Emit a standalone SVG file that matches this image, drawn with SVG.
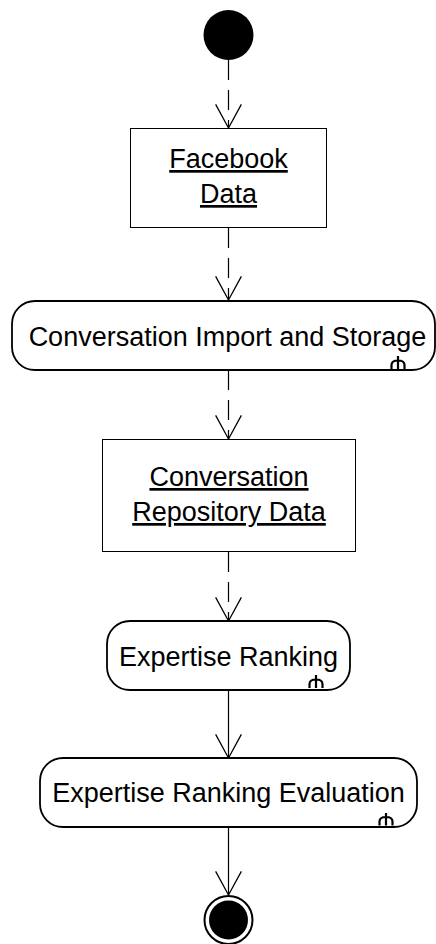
<svg xmlns="http://www.w3.org/2000/svg" width="436" height="944" viewBox="0 0 436 944">
<style>
.lbl{font-family:"Liberation Sans",Arial,sans-serif;font-size:27px;fill:#000;text-anchor:middle}
.u{text-decoration:underline}
.obj{fill:#fff;stroke:#000;stroke-width:1}
.act{fill:#fff;stroke:#000;stroke-width:1.8}
.rake{fill:none;stroke:#000;stroke-width:2.2}
.edge{fill:none;stroke:#000;stroke-width:1.2}
.dash{stroke-dasharray:20 10}
</style>
<defs>
<marker id="arr" markerUnits="userSpaceOnUse" markerWidth="30" markerHeight="30" viewBox="-24 -14 26 28" refX="0" refY="0" orient="auto" overflow="visible">
<path d="M-22,-12 L0,0 L-22,12" fill="none" stroke="#000" stroke-width="1.2"/>
</marker>
</defs>
<rect width="436" height="944" fill="#fff"/>
<g id="connectors">
<path class="edge dash" d="M228.5,60 V128" marker-end="url(#arr)"/>
<path class="edge dash" d="M228.5,228 V300" marker-end="url(#arr)"/>
<path class="edge dash" d="M228.5,370 V439" marker-end="url(#arr)"/>
<path class="edge dash" d="M228.5,552 V621" marker-end="url(#arr)"/>
<path class="edge" d="M228.5,690 V758" marker-end="url(#arr)"/>
<path class="edge" d="M228.5,827 V895" marker-end="url(#arr)"/>
</g>
<g id="start">
<circle cx="228.5" cy="35" r="25" fill="#000"/>
</g>
<g id="facebook-data">
<rect class="obj" x="130.5" y="128.5" width="196" height="99"/>
<text class="lbl u" x="228.5" y="168">Facebook</text>
<text class="lbl u" x="228.5" y="203">Data</text>
</g>
<g id="conversation-import">
<rect class="act" x="12" y="301" width="423" height="69" rx="23" ry="23"/>
<text class="lbl" x="227.5" y="345.5">Conversation Import and Storage</text>
<path class="rake" d="M398,356 V369 M391.5,369 V365 Q391.5,360.5 398,360.5 Q404.5,360.5 404.5,365 V369"/>
</g>
<g id="conversation-repository">
<rect class="obj" x="102.5" y="439.5" width="253" height="112"/>
<text class="lbl u" x="229" y="486">Conversation</text>
<text class="lbl u" x="229" y="521">Repository Data</text>
</g>
<g id="expertise-ranking">
<rect class="act" x="107" y="621" width="243" height="69" rx="23" ry="23"/>
<text class="lbl" x="228.5" y="665.5">Expertise Ranking</text>
<path class="rake" d="M316,675 V688 M309.5,688 V684 Q309.5,679.5 316,679.5 Q322.5,679.5 322.5,684 V688"/>
</g>
<g id="expertise-evaluation">
<rect class="act" x="40" y="758" width="377" height="69" rx="23" ry="23"/>
<text class="lbl" x="228.5" y="802">Expertise Ranking Evaluation</text>
<path class="rake" d="M386,813 V825.5 M379.5,825.5 V821.5 Q379.5,817 386,817 Q392.5,817 392.5,821.5 V825.5"/>
</g>
<g id="end">
<circle cx="228.5" cy="920" r="24" fill="#fff" stroke="#000" stroke-width="2"/>
<circle cx="228.5" cy="920" r="19.5" fill="#000"/>
</g>
</svg>
